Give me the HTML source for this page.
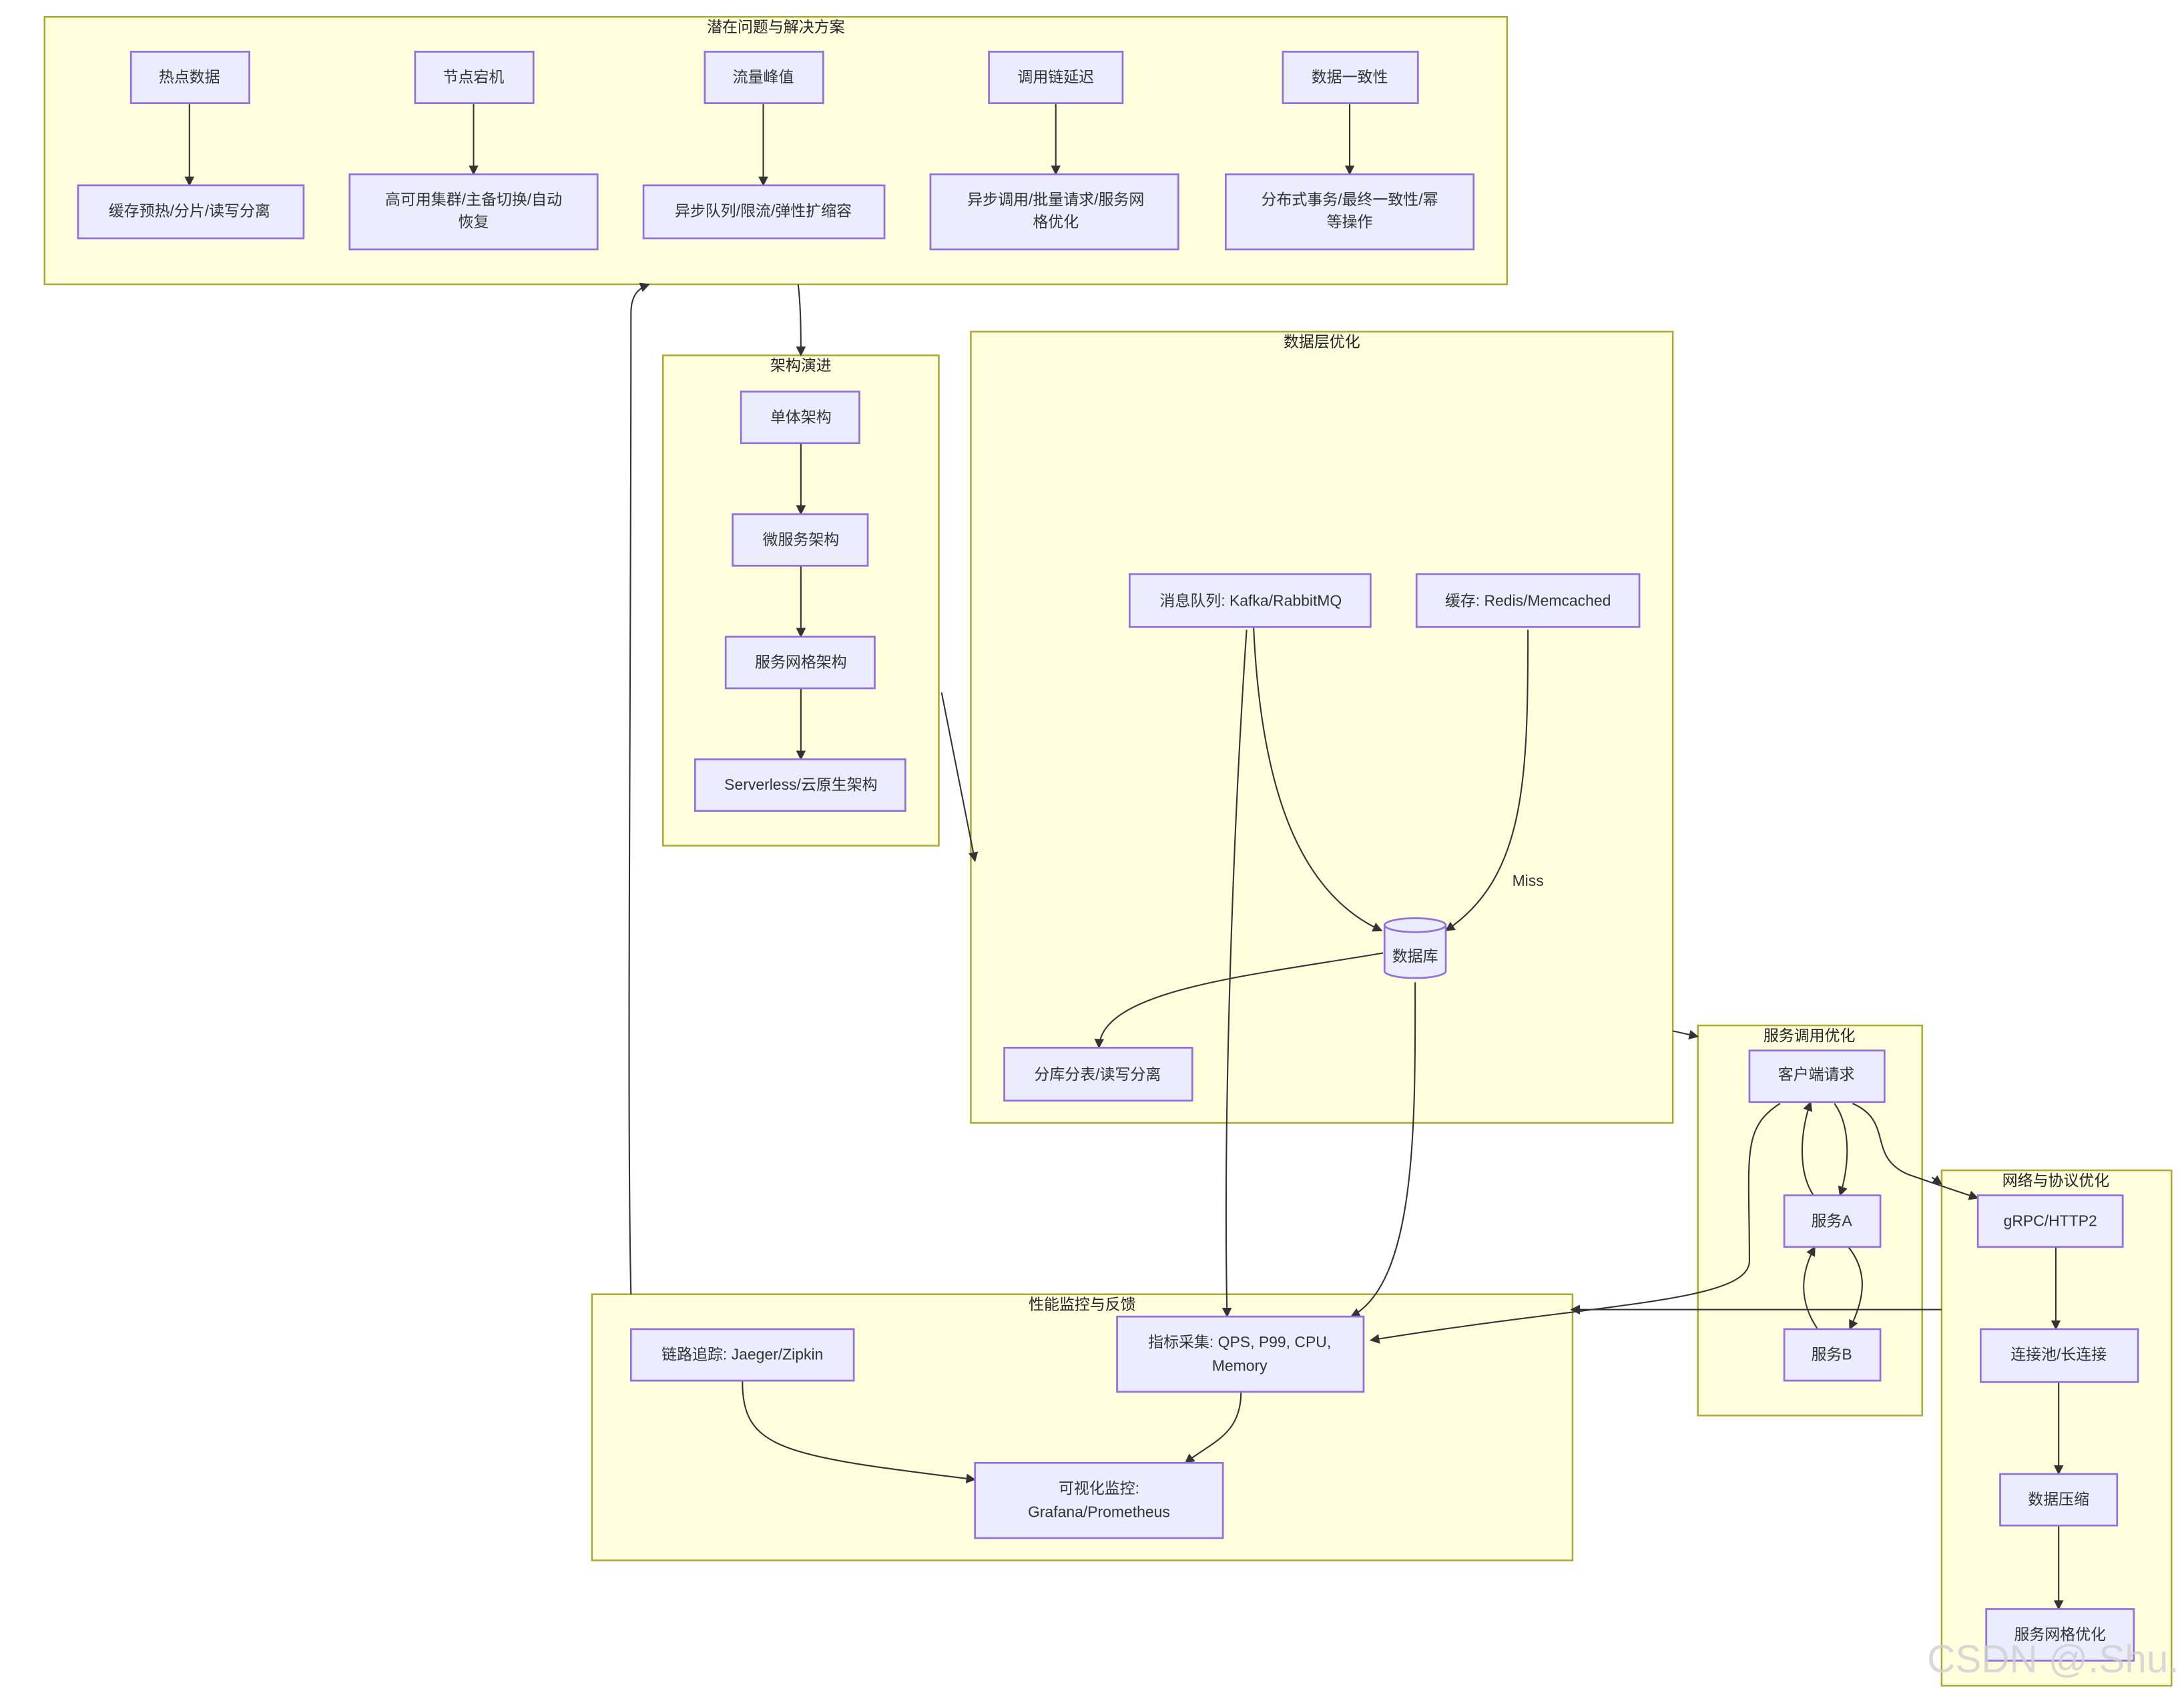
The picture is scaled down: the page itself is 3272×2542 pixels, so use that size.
<!DOCTYPE html>
<html><head><meta charset="utf-8"><style>
html,body{margin:0;padding:0;background:#fff;}
svg{display:block}
text{font-family:"Liberation Sans","Noto Sans CJK SC",sans-serif;fill:#333;font-size:11px;text-anchor:middle;dominant-baseline:middle}
.t{fill:#222}
.c{fill:#ffffde;stroke:#aaaa33;stroke-width:1.2}
.n{fill:#ececff;stroke:#9370db;stroke-width:1.3}
.e{fill:none;stroke:#333;stroke-width:1}
</style></head><body>
<svg width="3272" height="2542" viewBox="0 0 1568 1218" xmlns="http://www.w3.org/2000/svg">
<defs><marker id="a" viewBox="0 0 10 10" refX="9" refY="5" markerWidth="7" markerHeight="7" orient="auto"><path d="M0,0L10,5L0,10z" fill="#333"/></marker></defs>
<rect class="c" x="32" y="12" width="1050" height="192"/><text class="t" x="557" y="20">潜在问题与解决方案</text>
<rect class="c" x="476" y="255" width="198" height="352"/><text class="t" x="575" y="263">架构演进</text>
<rect class="c" x="697" y="238" width="504" height="568"/><text class="t" x="949" y="246">数据层优化</text>
<rect class="c" x="1219" y="736" width="161" height="280"/><text class="t" x="1299" y="744">服务调用优化</text>
<rect class="c" x="1394" y="840" width="165" height="370"/><text class="t" x="1476" y="848">网络与协议优化</text>
<rect class="c" x="425" y="929" width="704" height="191"/><text class="t" x="777" y="937">性能监控与反馈</text>
<g class="e" marker-end="url(#a)">
<path d="M136,74V133"/><path d="M340,74V125"/><path d="M548,74V133"/><path d="M758,74V125"/><path d="M969,74V125"/>
<path d="M573,204C575,220 575,240 575,255"/>
<path d="M575,318V369"/><path d="M575,406V457"/><path d="M575,494V545"/>
<path d="M676,497L700,618"/>
<path d="M900,450C905,560 930,640 992,668"/>
<path d="M1097,452C1097,560 1095,630 1038,668"/>
<path d="M993,684C900,700 790,710 789,752"/>
<path d="M895,452C885,600 878,800 881,945"/>
<path d="M1016,705C1016,800 1018,920 970,945"/>
<path d="M1201,740L1219,744"/>
<path d="M1317,792C1330,810 1327,840 1321,858"/>
<path d="M1302,858C1290,840 1293,810 1300,791"/>
<path d="M1327,895C1343,915 1337,935 1328,954"/>
<path d="M1305,954C1292,935 1292,915 1303,895"/>
<path d="M1330,792C1360,805 1340,830 1370,843C1390,850 1405,855 1420,860"/>
<path d="M1387,845L1394,850"/>
<path d="M1278,792C1250,810 1256,830 1256,905C1256,935 1150,935 984,962"/>
<path d="M1394,940H1128"/>
<path d="M1476,895V954"/><path d="M1478,992V1058"/><path d="M1478,1095V1155"/>
<path d="M533,991C533,1040 560,1045 700,1062"/>
<path d="M891,999C891,1030 870,1035 851,1050"/>
<path d="M453,929C450,800 453,500 453,225C453,212 458,207 466,204"/>
</g>
<text x="1097" y="633">Miss</text>
<g>
<rect class="n" x="94" y="37" width="85" height="37"/><text x="136" y="56">热点数据</text>
<rect class="n" x="298" y="37" width="85" height="37"/><text x="340" y="56">节点宕机</text>
<rect class="n" x="506" y="37" width="85" height="37"/><text x="548" y="56">流量峰值</text>
<rect class="n" x="710" y="37" width="96" height="37"/><text x="758" y="56">调用链延迟</text>
<rect class="n" x="921" y="37" width="97" height="37"/><text x="969" y="56">数据一致性</text>
<rect class="n" x="56" y="133" width="162" height="38"/><text x="136" y="152">缓存预热/分片/读写分离</text>
<rect class="n" x="251" y="125" width="178" height="54"/><text x="340" y="144">高可用集群/主备切换/自动</text><text x="340" y="160">恢复</text>
<rect class="n" x="462" y="133" width="173" height="38"/><text x="548" y="152">异步队列/限流/弹性扩缩容</text>
<rect class="n" x="668" y="125" width="178" height="54"/><text x="758" y="144">异步调用/批量请求/服务网</text><text x="758" y="160">格优化</text>
<rect class="n" x="880" y="125" width="178" height="54"/><text x="969" y="144">分布式事务/最终一致性/幂</text><text x="969" y="160">等操作</text>
<rect class="n" x="532" y="281" width="85" height="37"/><text x="575" y="300">单体架构</text>
<rect class="n" x="526" y="369" width="97" height="37"/><text x="575" y="388">微服务架构</text>
<rect class="n" x="521" y="457" width="107" height="37"/><text x="575" y="476">服务网格架构</text>
<rect class="n" x="499" y="545" width="151" height="37"/><text x="575" y="564">Serverless/云原生架构</text>
<rect class="n" x="811" y="412" width="173" height="38"/><text x="898" y="432">消息队列: Kafka/RabbitMQ</text>
<rect class="n" x="1017" y="412" width="160" height="38"/><text x="1097" y="432">缓存: Redis/Memcached</text>
<path class="n" d="M994,664V697A22,5 0 0 0 1038,697V664A22,5 0 0 0 994,664A22,5 0 0 0 1038,664"/><text x="1016" y="687">数据库</text>
<rect class="n" x="721" y="752" width="135" height="38"/><text x="788" y="772">分库分表/读写分离</text>
<rect class="n" x="1256" y="754" width="97" height="37"/><text x="1304" y="772">客户端请求</text>
<rect class="n" x="1281" y="858" width="69" height="37"/><text x="1315" y="877">服务A</text>
<rect class="n" x="1281" y="954" width="69" height="37"/><text x="1315" y="973">服务B</text>
<rect class="n" x="1420" y="858" width="104" height="37"/><text x="1472" y="877">gRPC/HTTP2</text>
<rect class="n" x="1422" y="954" width="113" height="38"/><text x="1478" y="973">连接池/长连接</text>
<rect class="n" x="1436" y="1058" width="84" height="37"/><text x="1478" y="1077">数据压缩</text>
<rect class="n" x="1426" y="1155" width="106" height="37"/><text x="1479" y="1174">服务网格优化</text>
<rect class="n" x="453" y="954" width="160" height="37"/><text x="533" y="973">链路追踪: Jaeger/Zipkin</text>
<rect class="n" x="802" y="945" width="177" height="54"/><text x="890" y="964">指标采集: QPS, P99, CPU,</text><text x="890" y="981">Memory</text>
<rect class="n" x="700" y="1050" width="178" height="54"/><text x="789" y="1069">可视化监控:</text><text x="789" y="1086">Grafana/Prometheus</text>
</g>
<text x="1474" y="1193" style="font-size:28px;fill:#d0d0d0;fill-opacity:0.8">CSDN @.Shu.</text>
</svg>
</body></html>
